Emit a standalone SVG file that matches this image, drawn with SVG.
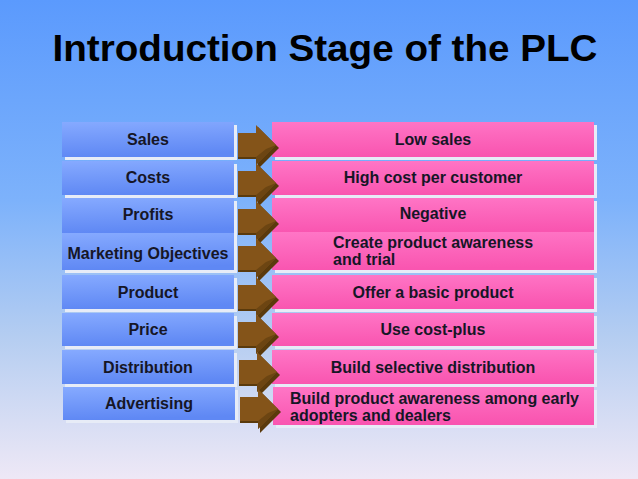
<svg xmlns="http://www.w3.org/2000/svg" width="638" height="479" viewBox="0 0 638 479">
<defs>
<linearGradient id="bg" x1="0" y1="0" x2="0" y2="1">
<stop offset="0" stop-color="#5b9afd"/>
<stop offset="0.42" stop-color="#7db2fb"/>
<stop offset="0.7" stop-color="#b4cdf1"/>
<stop offset="1" stop-color="#eee8f6"/>
</linearGradient>
<linearGradient id="blue" x1="0" y1="0" x2="0.15" y2="1">
<stop offset="0" stop-color="#86aaff"/>
<stop offset="1" stop-color="#5f88f4"/>
</linearGradient>
<linearGradient id="pink" x1="0" y1="0" x2="0.1" y2="1">
<stop offset="0" stop-color="#ff76c6"/>
<stop offset="1" stop-color="#f955b0"/>
</linearGradient>
<g id="arrow">
<polygon points="0,-3 20,-3 20,-12 41,9 20,30 20,20 0,20" fill="#5a3a0c"/>
<polygon points="0,-6 18,-6 18,-14 38,6 18,26 18,18 0,18" fill="#845419"/>
<polygon points="18,18 18,26 38,6 28,10" fill="#6c4512"/>
</g>
</defs>
<style>
.lb{fill:url(#blue)}
.pk{fill:url(#pink)}
.sh{fill:#e7ecf7}
.t{font-family:"Liberation Sans",Arial,sans-serif;font-weight:bold;font-size:16px;fill:#161626}
.c{text-anchor:middle}
</style>
<rect width="638" height="479" fill="url(#bg)"/>
<text x="325" y="61" text-anchor="middle" font-family="Liberation Sans,Arial,sans-serif" font-weight="bold" font-size="37" fill="#000" textLength="545" lengthAdjust="spacingAndGlyphs">Introduction Stage of the PLC</text>

<g id="sales"><rect class="sh" x="65" y="125" width="172" height="35"/><rect class="lb" x="62" y="122" width="172" height="35"/><text class="t c" x="148" y="145">Sales</text></g>
<g id="costs"><rect class="sh" x="65" y="164" width="172" height="34"/><rect class="lb" x="62" y="161" width="172" height="34"/><text class="t c" x="148" y="183">Costs</text></g>
<g id="profits"><rect class="sh" x="65" y="201" width="172" height="35"/><rect class="lb" x="62" y="198" width="172" height="35"/><text class="t c" x="148" y="220">Profits</text></g>
<g id="marketing-objectives"><rect class="sh" x="65" y="236" width="172" height="37"/><rect class="lb" x="62" y="233" width="172" height="37"/><text class="t c" x="148" y="259">Marketing Objectives</text></g>
<g id="product"><rect class="sh" x="65" y="278" width="172" height="34"/><rect class="lb" x="62" y="275" width="172" height="34"/><text class="t c" x="148" y="298">Product</text></g>
<g id="price"><rect class="sh" x="65" y="316" width="172" height="33"/><rect class="lb" x="62" y="313" width="172" height="33"/><text class="t c" x="148" y="335">Price</text></g>
<g id="distribution"><rect class="sh" x="65" y="353" width="172" height="34"/><rect class="lb" x="62" y="350" width="172" height="34"/><text class="t c" x="148" y="373">Distribution</text></g>
<g id="advertising"><rect class="sh" x="66" y="390" width="172" height="33"/><rect class="lb" x="63" y="387" width="172" height="33"/><text class="t c" x="149" y="409">Advertising</text></g>

<g id="low-sales"><rect class="sh" x="275" y="125" width="322" height="35"/><rect class="pk" x="272" y="122" width="322" height="35"/><text class="t c" x="433" y="145">Low sales</text></g>
<g id="high-cost"><rect class="sh" x="275" y="164" width="322" height="34"/><rect class="pk" x="272" y="161" width="322" height="34"/><text class="t c" x="433" y="183">High cost per customer</text></g>
<g id="negative"><rect class="sh" x="275" y="201" width="322" height="35"/><rect class="pk" x="272" y="198" width="322" height="35"/><text class="t c" x="433" y="219">Negative</text></g>
<g id="create-awareness"><rect class="sh" x="275" y="235" width="322" height="38"/><rect class="pk" x="272" y="232" width="322" height="38"/><text class="t" x="333" y="248">Create product awareness</text><text class="t" x="333" y="265">and trial</text></g>
<g id="basic-product"><rect class="sh" x="275" y="278" width="322" height="34"/><rect class="pk" x="272" y="275" width="322" height="34"/><text class="t c" x="433" y="298">Offer a basic product</text></g>
<g id="cost-plus"><rect class="sh" x="275" y="316" width="322" height="33"/><rect class="pk" x="272" y="313" width="322" height="33"/><text class="t c" x="433" y="335">Use cost-plus</text></g>
<g id="selective-distribution"><rect class="sh" x="275" y="353" width="322" height="34"/><rect class="pk" x="272" y="350" width="322" height="34"/><text class="t c" x="433" y="373">Build selective distribution</text></g>
<g id="build-awareness"><rect class="sh" x="276" y="390" width="321" height="38"/><rect class="pk" x="273" y="387" width="321" height="38"/><text class="t" x="290" y="404">Build product awareness among early</text><text class="t" x="290" y="421">adopters and dealers</text></g>

<g id="connectors">
<use href="#arrow" x="238" y="139"/>
<use href="#arrow" x="238" y="177"/>
<use href="#arrow" x="238" y="215"/>
<use href="#arrow" x="238" y="252"/>
<use href="#arrow" x="238" y="291"/>
<use href="#arrow" x="238" y="328"/>
<use href="#arrow" x="239" y="366"/>
<use href="#arrow" x="240" y="403"/>
</g>
</svg>
